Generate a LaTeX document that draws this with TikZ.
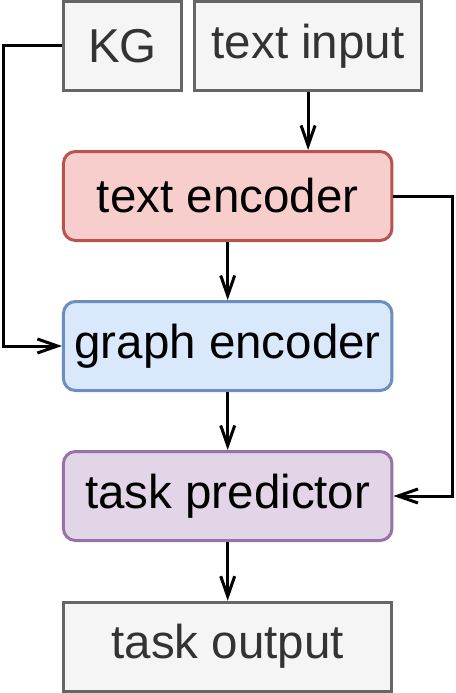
\documentclass[tikz,border=0pt]{standalone}
\usepackage{fontspec}
\setmainfont{Liberation Sans}
\usetikzlibrary{arrows.meta}

\definecolor{grayfill}{HTML}{F5F5F5}
\definecolor{graydraw}{HTML}{666666}
\definecolor{graytext}{HTML}{333333}
\definecolor{redfill}{HTML}{F8CECC}
\definecolor{reddraw}{HTML}{B85450}
\definecolor{bluefill}{HTML}{DAE8FC}
\definecolor{bluedraw}{HTML}{6C8EBF}
\definecolor{purplefill}{HTML}{E1D5E7}
\definecolor{purpledraw}{HTML}{9673A6}

\begin{document}
\begin{tikzpicture}[
    x=1pt,y=-1pt,
    box/.style={line width=3pt,minimum width=328.5pt,minimum height=89pt,
        inner sep=0pt,font=\fontsize{47.5}{56}\selectfont},
    plain/.style={box,draw=graydraw,fill=grayfill,text=graytext},
    module/.style={box,rounded corners=12pt},
    link/.style={line width=3pt,-{Straight Barb[length=20pt,width=14pt]}}
]

\useasboundingbox (0,0) rectangle (455,693);

% -------------------------------------------------
% Входы
% -------------------------------------------------
\node[plain,minimum width=118.6pt,minimum height=88.7pt] (kg) at (122.5,46) {KG};
\node[plain,minimum width=226.7pt,minimum height=88.7pt] (input) at (308.1,46) {text input};

% -------------------------------------------------
% Модули
% -------------------------------------------------
\node[module,draw=reddraw,fill=redfill] (tenc) at (227.7,196) {text encoder};
\node[module,draw=bluedraw,fill=bluefill] (genc) at (227.7,346) {graph encoder};
\node[module,draw=purpledraw,fill=purplefill] (pred) at (227.7,496) {task predictor};

% -------------------------------------------------
% Выход
% -------------------------------------------------
\node[plain] (output) at (227.7,646.7) {task output};

% -------------------------------------------------
% Точки поворота обходных линий
% -------------------------------------------------
\coordinate (kgturn) at (3,46);
\coordinate (encturn) at (452,196);

% -------------------------------------------------
% Связи
% -------------------------------------------------
\draw[link] (input) -- (input |- tenc.north);
\draw[link] (tenc) -- (genc);
\draw[link] (genc) -- (pred);
\draw[link] (pred) -- (output);

% Обходные
\draw[link] (kg.west) -- (kgturn) |- (genc.west);
\draw[link] (tenc.east) -- (encturn) |- (pred.east);

\end{tikzpicture}
\end{document}
